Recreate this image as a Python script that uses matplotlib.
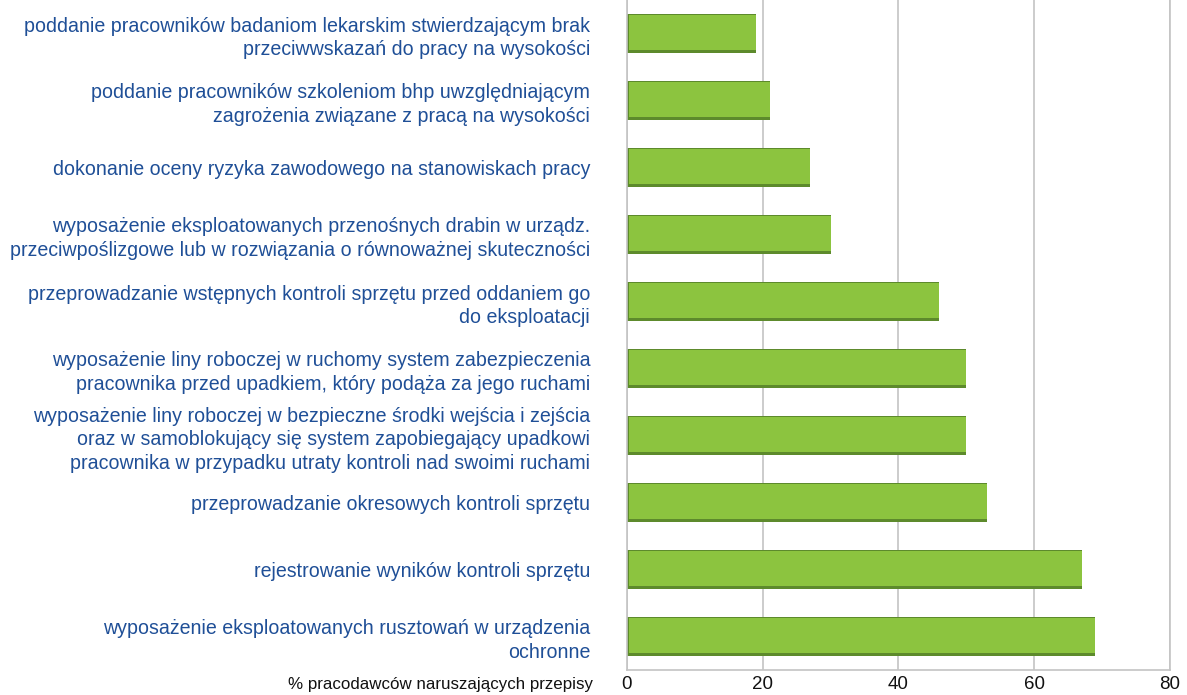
import numpy as np
from matplotlib import pyplot as plt

labels = [
    "poddanie pracowników badaniom lekarskim stwierdzającym brak\nprzeciwwskazań do pracy na wysokości",
    "poddanie pracowników szkoleniom bhp uwzględniającym\nzagrożenia związane z pracą na wysokości",
    "dokonanie oceny ryzyka zawodowego na stanowiskach pracy",
    "wyposażenie eksploatowanych przenośnych drabin w urządz.\nprzeciwpoślizgowe lub w rozwiązania o równoważnej skuteczności",
    "przeprowadzanie wstępnych kontroli sprzętu przed oddaniem go\ndo eksploatacji",
    "wyposażenie liny roboczej w ruchomy system zabezpieczenia\npracownika przed upadkiem, który podąża za jego ruchami",
    "wyposażenie liny roboczej w bezpieczne środki wejścia i zejścia\noraz w samoblokujący się system zapobiegający upadkowi\npracownika w przypadku utraty kontroli nad swoimi ruchami",
    "przeprowadzanie okresowych kontroli sprzętu",
    "rejestrowanie wyników kontroli sprzętu",
    "wyposażenie eksploatowanych rusztowań w urządzenia\nochronne",
]
values = [19, 21, 27, 30, 46, 50, 50, 53, 67, 69]
xticks = [0, 20, 40, 60, 80]

plt.rcParams['font.family'] = ['Liberation Sans', 'DejaVu Sans']
BLUE = '#1f4f97'
GRID = '#c4c4c4'

fig = plt.figure(figsize=(11.87, 6.95), dpi=100)
ax = fig.add_axes([627 / 1187, 1 - 670 / 695, (1170 - 627) / 1187, 670 / 695])

y = np.arange(len(values))
# dark shadow bar, then lighter face slightly shifted
ax.barh(y, values, height=0.57, color='#5d8a2c', zorder=2)
ax.barh(y - 0.02, np.array(values) - 0.35, left=0.35, height=0.52,
        color='#8cc43f', zorder=3)

ax.set_ylim(len(values) - 0.5, -0.5)
ax.set_xlim(0, 80)
ax.set_yticks(y)
ax.set_yticklabels(labels, color=BLUE, fontsize=14.1, ha='right',
                   linespacing=1.3)
ax.tick_params(axis='y', length=0, pad=26.5)
ax.set_xticks(xticks)
ax.tick_params(axis='x', length=0, labelsize=13.5, colors='#111111', pad=4)
ax.xaxis.grid(True, color=GRID, linewidth=1.2, zorder=0)
ax.set_axisbelow(True)
for s in ['left', 'bottom', 'right']:
    ax.spines[s].set_color(GRID)
    ax.spines[s].set_linewidth(1.2)
ax.spines['top'].set_visible(False)

fig.text(593 / 1187, 1 - 684 / 695, "% pracodawców naruszających przepisy",
         ha='right', va='center', fontsize=12.2, color='#111111')

fig.savefig('out.png', dpi=100)
